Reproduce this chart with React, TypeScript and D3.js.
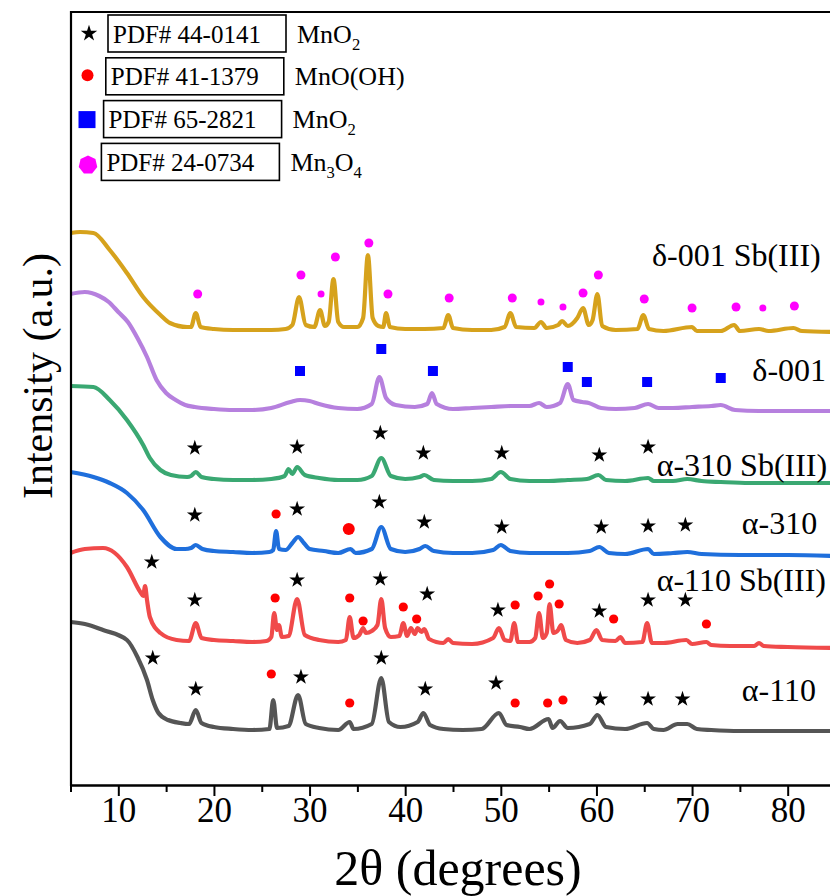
import React, { useEffect, useRef } from "react";
import * as d3 from "d3";

// XRD patterns, 2θ (deg) vs intensity (a.u., stacked)
const delta001Sb: [number, number][] = [
  [5, 552], [6, 553], [7.4, 552], [9.1, 535], [10.9, 512], [12.6, 488], [14.4, 470], [15.4, 462], [17.2, 458],
  [17.6, 458], [18.1, 472], [18.6, 458], [20, 456], [22, 455], [24, 455], [26, 455], [27.5, 456], [28.2, 460],
  [28.9, 488], [29.6, 460], [30.5, 458], [31.1, 475], [31.6, 459], [32.0, 463], [32.5, 506], [33.0, 463],
  [33.6, 458], [35.0, 458], [35.6, 467], [36.1, 530], [36.6, 467], [37.2, 459], [37.7, 458], [38.0, 472],
  [38.4, 458], [40, 456], [42, 456], [44.0, 457], [44.5, 470], [45.0, 457], [47, 455], [49, 455], [50.4, 458],
  [51.0, 472], [51.6, 458], [53.5, 457], [54.2, 463], [54.8, 457], [56.0, 460], [56.4, 464], [57.0, 459],
  [58.0, 467], [58.6, 477], [59.2, 460], [59.6, 465], [60.1, 491], [60.6, 459], [62, 455], [64.3, 456],
  [64.9, 470], [65.5, 456], [67, 454], [70, 458], [70.5, 454], [73, 454], [74.4, 460], [75, 454], [77, 456],
  [78, 454], [80.6, 457], [81.5, 454], [85, 453],
];
const delta001: [number, number][] = [
  [5, 491], [6.5, 493], [8, 489], [9, 483], [10, 473], [11, 463], [12, 447], [13, 428], [14, 405], [15, 392],
  [16, 385], [17, 380], [18, 378], [20, 376], [22, 375], [24, 375], [26, 377], [28, 383], [29, 385], [30, 384],
  [31, 381], [33, 377], [35, 376], [36.5, 381], [37.3, 408], [38.0, 387], [39, 380], [41, 378], [42.3, 381],
  [42.8, 392], [43.3, 381], [45, 376], [47, 377], [49, 378], [51, 379], [53, 379], [54, 382], [54.8, 378],
  [56.2, 382], [57.0, 401], [57.6, 385], [58.5, 383], [59.2, 382], [60.5, 377], [62, 376], [64, 377],
  [65.4, 381], [66.5, 377], [68, 377], [70, 378], [72, 379], [73, 380], [74.5, 375], [77, 374], [80, 374],
  [85, 374],
];
const alpha310Sb: [number, number][] = [
  [5, 399], [7.4, 398], [9.1, 385], [10.9, 365], [12.6, 340], [13.3, 327], [14.4, 315], [15.5, 310],
  [17.2, 308], [17.6, 309], [18.1, 313], [18.7, 308], [20, 306], [22, 305], [24, 305], [26, 306], [27.4, 309],
  [27.8, 316], [28.2, 311], [28.7, 318], [29.5, 310], [31, 307], [33, 305], [35, 305], [36.5, 309],
  [37.5, 327], [38.5, 309], [40, 306], [41.5, 308], [42.0, 310], [43, 305], [45, 304], [47, 304], [49, 306],
  [50.0, 313], [51, 306], [53, 304], [55, 304], [57, 305], [59, 306], [60.2, 310], [61, 305], [63, 304],
  [65.4, 307], [66, 304], [68, 304], [69.5, 306], [71, 304], [73, 303], [76, 302], [80, 302], [85, 302],
];
const alpha310: [number, number][] = [
  [5, 313], [7.4, 308], [9.1, 302], [10.9, 292], [12.6, 275], [14.4, 248], [16.1, 236], [17, 236],
  [17.6, 237], [18.1, 240], [18.8, 236], [20, 234], [22, 233], [24, 232], [25.8, 233], [26.2, 235],
  [26.5, 254], [26.8, 236], [27.5, 235], [28.2, 242], [28.8, 248], [29.4, 242], [30, 236], [31.5, 234],
  [33, 232], [34.3, 236], [34.8, 232], [36.5, 236], [37.5, 258], [38.5, 236], [40, 233], [41.5, 236],
  [42.1, 239], [43, 234], [45, 232], [47, 232], [49.2, 235], [50.0, 240], [51, 234], [53, 232], [55, 232],
  [57, 232], [59.3, 234], [60.3, 238], [61.3, 232], [63, 231], [65.4, 236], [66, 231], [68, 232],
  [69.5, 233], [71, 231], [75, 230], [80, 230], [85, 229],
];
const alpha110Sb: [number, number][] = [
  [5, 232], [6.5, 236], [8.4, 237], [10.9, 218], [12.3, 193], [12.6, 189], [12.8, 199], [13.0, 185],
  [13.3, 168], [14.4, 152], [16.1, 145], [17.4, 144], [18.1, 162], [18.7, 147], [20, 145], [22, 144],
  [24, 143], [25.5, 144], [26.0, 148], [26.3, 172], [26.6, 155], [26.8, 160], [27.1, 148], [27.8, 149],
  [28.7, 186], [29.5, 150], [31, 145], [33, 143], [33.8, 145], [34.2, 168], [34.6, 147], [35.2, 150],
  [35.6, 157], [35.9, 152], [36.5, 154], [37.1, 160], [37.5, 186], [37.9, 157], [38.5, 148], [39.4, 149],
  [39.8, 162], [40.2, 149], [40.6, 157], [41.0, 151], [41.3, 157], [41.7, 153], [42.0, 156], [42.5, 146],
  [44, 142], [44.5, 146], [45, 142], [47, 141], [49.2, 147], [49.8, 157], [50.4, 145], [51.0, 144],
  [51.4, 162], [51.8, 143], [53, 143], [53.6, 147], [54.0, 172], [54.4, 147], [54.8, 152], [55.1, 181],
  [55.5, 152], [56.0, 155], [56.3, 160], [56.8, 145], [58, 142], [59.3, 145], [60.0, 155], [60.6, 145],
  [62.0, 144], [62.5, 148], [63, 142], [64.8, 143], [65.3, 162], [65.8, 142], [67, 142], [69.4, 145],
  [70, 141], [71.5, 143], [72, 140], [74, 139], [76.5, 139], [77, 142], [77.5, 139], [80, 138], [85, 137],
];
const alpha110: [number, number][] = [
  [5, 163], [6.5, 161], [8.4, 155], [10.9, 145], [12.0, 128], [13.0, 105], [13.6, 85], [14.2, 72],
  [15.2, 65], [16.5, 62], [17.4, 61], [18.1, 75], [18.7, 62], [20, 58], [22, 56], [24, 55], [25.8, 56],
  [26.2, 85], [26.6, 57], [27.8, 59], [28.8, 90], [29.6, 61], [31, 57], [33, 55], [34.2, 63], [34.6, 56],
  [36.5, 61], [37.5, 107], [38.3, 63], [39.5, 58], [41.3, 63], [41.9, 72], [42.6, 60], [44, 56], [46, 55],
  [48, 56], [49.8, 72], [50.6, 60], [52, 58], [53, 56], [55.0, 66], [55.4, 57], [56.2, 64], [57, 57],
  [59.3, 61], [60.1, 70], [61, 58], [63, 56], [65.3, 62], [66, 56], [67, 55], [68.5, 61], [69.5, 61],
  [70.5, 56], [72, 55], [75, 54], [80, 54], [85, 54],
];

const seriesNames = ["δ-001 Sb(III)", "δ-001", "α-310 Sb(III)", "α-310", "α-110 Sb(III)", "α-110"];
const seriesData = [delta001Sb, delta001, alpha310Sb, alpha310, alpha110Sb, alpha110];
const seriesColors = ["#D6A21C", "#B680DE", "#3AA872", "#1F6FDC", "#F04A4A", "#555555"];
// label anchor: [2θ, intensity]
const seriesLabelAt: [number, number][] = [[65.8, 530], [76.3, 415], [66.3, 320], [75.2, 262], [66.3, 205], [75.2, 95]];

// reflection marks [2θ, intensity]
const mno2Stars: [number, number][] = [
  [18.0, 337], [28.7, 338], [37.4, 352], [41.9, 332], [50.1, 332], [60.3, 330], [65.4, 338],
  [18.0, 270], [28.7, 276], [37.3, 283], [42.0, 263], [50.1, 258], [60.5, 258], [65.4, 259], [69.3, 260],
  [13.5, 223], [18.0, 185], [28.7, 205], [37.4, 206], [42.3, 191], [49.7, 175], [60.3, 174], [65.4, 185], [69.3, 185],
  [13.6, 127], [18.1, 96], [29.1, 108], [37.5, 127], [42.1, 96], [49.5, 102], [60.4, 86], [65.4, 86], [69.0, 86],
];
const mnoohDots: [number, number][] = [
  [26.5, 271],
  [26.4, 187], [34.2, 187], [35.6, 164], [39.8, 178], [41.2, 166], [51.5, 180], [53.9, 189], [55.1, 201],
  [56.1, 181], [61.8, 166], [71.5, 161],
  [26.0, 111], [34.2, 82], [51.5, 82], [54.9, 82], [56.5, 85],
];
const mnoohBig: [number, number][] = [[34.1, 256]];
const mno2Squares: [number, number][] = [[29.0, 414], [37.5, 436], [42.9, 414], [57.0, 418], [59.0, 403], [65.3, 403], [73.0, 407]];
const mn3o4Dots: [number, number][] = [
  [18.3, 491], [29.1, 510], [32.7, 528], [36.2, 542], [38.2, 491], [44.6, 487], [51.2, 487], [58.6, 492],
  [60.2, 510], [65.0, 486], [70.0, 477], [74.6, 478], [80.7, 479],
];
const mn3o4Weak: [number, number][] = [[31.2, 491], [54.2, 483], [56.5, 478], [77.4, 477]];

const legendCodes = ["PDF# 44-0141", "PDF# 41-1379", "PDF# 65-2821", "PDF# 24-0734"];
const legendPhases = ["MnO_2", "MnO(OH)", "MnO_2", "Mn_3O_4"];

const xMajor = [10, 20, 30, 40, 50, 60, 70, 80];
const xMinor = [5, 15, 25, 35, 45, 55, 65, 75, 85];

const W = 830;
const H = 896;
const FONT = "'Liberation Serif', 'Times New Roman', serif";

const x = d3.scaleLinear().domain([5, 85]).range([70.5, 835.5]);
const y = d3.scaleLinear().domain([0, 773]).range([785, 12]);

const starPath = d3.symbol(d3.symbolStar, 78)() as string;

function Formula({ text, size }: { text: string; size: number }) {
  const parts = text.split(/(_\d)/).filter(Boolean);
  let sub = false;
  return (
    <>
      {parts.map((p, i) => {
        if (p.startsWith("_")) {
          sub = true;
          return (
            <tspan key={i} fontSize={size * 0.64} dy={7}>{p.slice(1)}</tspan>
          );
        }
        const dy = sub ? -7 : 0;
        sub = false;
        return (
          <tspan key={i} dy={dy}>{p}</tspan>
        );
      })}
    </>
  );
}

function heptagon(r: number) {
  const pts = d3.range(7).map((i) => {
    const a = (i / 7) * Math.PI * 2 - Math.PI / 2;
    return [Math.cos(a) * r, Math.sin(a) * r] as [number, number];
  });
  return d3.line()(pts) + "Z";
}

export default function App() {
  const axisRef = useRef<SVGGElement>(null);

  useEffect(() => {
    const g = d3.select(axisRef.current);
    g.selectAll("*").remove();
    const major = d3.axisBottom(x).tickValues(xMajor).tickSize(11).tickSizeOuter(0).tickFormat(d3.format("d"));
    const minor = d3.axisBottom(x).tickValues(xMinor).tickSize(7).tickSizeOuter(0).tickFormat(() => "");
    g.append("g").call(minor);
    g.append("g").call(major);
    g.selectAll("path.domain").attr("stroke", "#000").attr("stroke-width", 2.2);
    g.selectAll(".tick line").attr("stroke", "#000").attr("stroke-width", 2);
    g.selectAll(".tick text")
      .attr("font-family", FONT)
      .attr("font-size", 35)
      .attr("fill", "#000")
      .attr("dy", "0.71em")
      .attr("y", 12);
  }, []);

  const line = d3
    .line<[number, number]>()
    .x((d) => x(d[0]))
    .y((d) => y(d[1]))
    .curve(d3.curveMonotoneX);

  return (
    <svg
      width={W}
      height={H}
      style={{ position: "absolute", left: 0, top: 0, background: "#fff" }}
      fontFamily={FONT}
    >
      <rect width={W} height={H} fill="#fff" />

      {/* curves */}
      {seriesData.map((s, i) => (
        <path key={i} d={line(s) ?? ""} fill="none" stroke={seriesColors[i]} strokeWidth={4.2} strokeLinejoin="round" />
      ))}

      {/* reflection markers */}
      {mn3o4Dots.map((d, i) => (
        <circle key={"m" + i} cx={x(d[0])} cy={y(d[1])} r={4.5} fill="#FF00FF" />
      ))}
      {mn3o4Weak.map((d, i) => (
        <circle key={"mw" + i} cx={x(d[0])} cy={y(d[1])} r={3.5} fill="#FF00FF" />
      ))}
      {mno2Squares.map((d, i) => (
        <rect key={"s" + i} x={x(d[0]) - 5} y={y(d[1]) - 5} width={10} height={10} fill="#0000FF" />
      ))}
      {mnoohDots.map((d, i) => (
        <circle key={"r" + i} cx={x(d[0])} cy={y(d[1])} r={4.6} fill="#FF0000" />
      ))}
      {mnoohBig.map((d, i) => (
        <circle key={"rb" + i} cx={x(d[0])} cy={y(d[1])} r={6} fill="#FF0000" />
      ))}
      {mno2Stars.map((d, i) => (
        <path key={"k" + i} d={starPath} transform={`translate(${x(d[0])},${y(d[1])})`} fill="#000" />
      ))}

      {/* series labels */}
      {seriesNames.map((n, i) => (
        <text key={n} x={x(seriesLabelAt[i][0])} y={y(seriesLabelAt[i][1])} dy="0.35em" fontSize={32} fill="#000">
          {n}
        </text>
      ))}

      {/* frame */}
      <line x1={71} x2={W} y1={12} y2={12} stroke="#000" strokeWidth={2.2} />
      <line x1={71} x2={71} y1={11} y2={786} stroke="#000" strokeWidth={2.2} />
      <g ref={axisRef} transform={`translate(0,${y(0)})`} />

      {/* legend */}
      {legendCodes.map((code, i) => {
        const cy = 33.5 + i * 42.8;
        const bx = 108 - i * 2.2;
        return (
          <g key={code}>
            {i === 0 && <path d={d3.symbol(d3.symbolStar, 84)() as string} transform={`translate(89,${cy})`} fill="#000" />}
            {i === 1 && <circle cx={87.5} cy={cy - 1} r={6} fill="#FF0000" />}
            {i === 2 && <rect x={78.5} y={cy - 8} width={17} height={17} fill="#0000FF" />}
            {i === 3 && <path d={heptagon(9.5)} transform={`translate(88,${cy + 3})`} fill="#FF00FF" />}
            <rect x={bx} y={cy - 18.5} width={178} height={37} fill="none" stroke="#000" strokeWidth={1.6} />
            <text x={bx + 5} y={cy + 9} fontSize={25} fill="#000">{code}</text>
            <text x={bx + 189} y={cy + 9} fontSize={26} fill="#000">
              <Formula text={legendPhases[i]} size={26} />
            </text>
          </g>
        );
      })}

      {/* axis titles */}
      <text x={458} y={885} textAnchor="middle" fontSize={50} fill="#000">2θ (degrees)</text>
      <text transform="translate(52,376) rotate(-90)" textAnchor="middle" fontSize={42} fill="#000">
        Intensity (a.u.)
      </text>
    </svg>
  );
}
